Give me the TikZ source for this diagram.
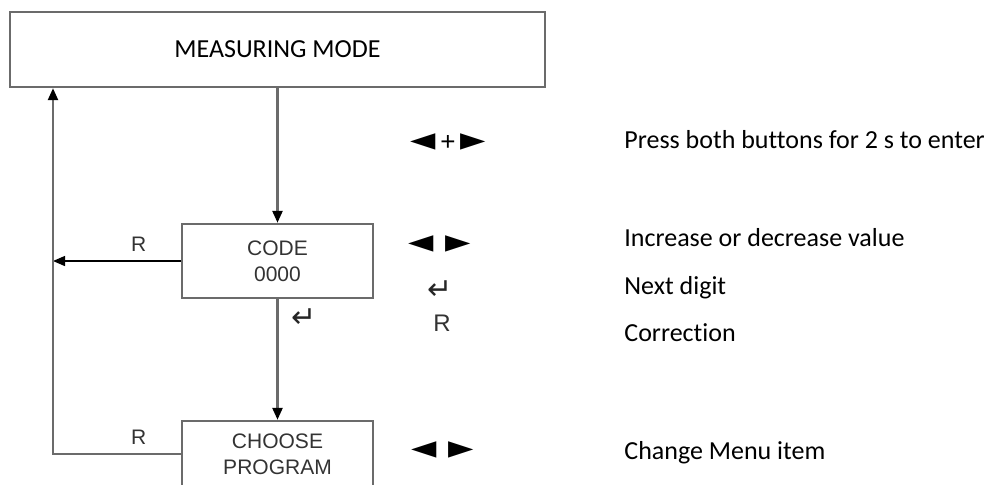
\documentclass[tikz,border=0pt]{standalone}
\usepackage{fontspec}
\setmainfont{Carlito}[Ligatures=NoCommon]
\newfontfamily\boxfont{Liberation Sans}
\newfontfamily\keyfont{DejaVu Sans}
\usetikzlibrary{arrows.meta,positioning}

\begin{document}
\begin{tikzpicture}
    [x=0.5pt,y=-0.5pt,
    % Styles
    box/.style={draw=linecolor,line width=1.2pt,inner sep=0pt,align=center,
      font=\boxfont\fontsize{10.5}{13}\selectfont,text=boxtext},
    flow/.style={draw=linecolor,line width=1.2pt,
      -{Triangle[length=6pt,width=5pt,color=black]}},
    back line/.style={draw=black,line width=0.7pt,
      -{Triangle[length=6pt,width=5pt,color=black]}},
    reset label/.style={above=1pt,font=\boxfont\fontsize{10.5}{13}\selectfont,text=boxtext},
    keys/.style={font=\keyfont\fontsize{16.5}{19}\selectfont,inner sep=0pt},
    enter key/.style={font=\keyfont\fontsize{15}{17}\selectfont,inner sep=0pt,text=black!85},
    small key/.style={font=\boxfont\fontsize{12}{14}\selectfont,text=boxtext,inner sep=0pt},
    info text/.style={anchor=west,inner sep=0pt,font=\fontsize{13}{15}\selectfont}]

    % Colors
    \colorlet{linecolor}{black!58}
    \colorlet{boxtext}{black!80}

    % Page size
    \useasboundingbox (0,0) rectangle (998,484);

    % Boxes
    \node[box,minimum width=267.5pt,minimum height=37.5pt,
      font=\fontsize{13}{15}\selectfont,text=black] (mode) at (277.5,49.5) {MEASURING MODE};
    \node[box,minimum width=95.5pt,minimum height=37pt] (code) at (277.5,261) {CODE\\0000};
    \node[box,minimum width=95.5pt,minimum height=33pt] (choose) at (277.5,454) {CHOOSE\\PROGRAM};

    % Main flow
    \draw[flow] (mode.south) -- (code.north);
    \draw[flow] (code.south) -- (choose.north);
    \node[enter key] (enter) at (304,318) {↵};

    % Way back
    \coordinate (back) at (53,261);
    \coordinate (corner) at (53,454);
    \draw[back line] (code.west) -- node[reset label,pos=0.33] {R} (back);
    \draw[flow] (choose.west) -- node[reset label,pos=0.33] {R} (corner) -- (corner |- mode.south);

    % Keys
    \node[keys] (k1) at (448,142) {◄\kern2.5pt{\boxfont\fontsize{13}{15}\selectfont+}\kern2.5pt►};
    \node[keys] (k2) at (440,244) {◄\kern6pt►};
    \node[enter key] (k3) at (440,290) {↵};
    \node[small key] (k4) at (442,323) {R};
    \node[keys] (k5) at (443,450) {◄\kern6pt►};

    % Explanations
    \node[info text] (t1) at (624,140) {Press both buttons for 2 s to enter};
    \node[info text] (t2) at (624,238) {Increase or decrease value};
    \node[info text] (t3) at (624,288) {Next digit};
    \node[info text] (t4) at (624,333) {Correction};
    \node[info text] (t5) at (624,453) {Change Menu item};
\end{tikzpicture}
\end{document}
